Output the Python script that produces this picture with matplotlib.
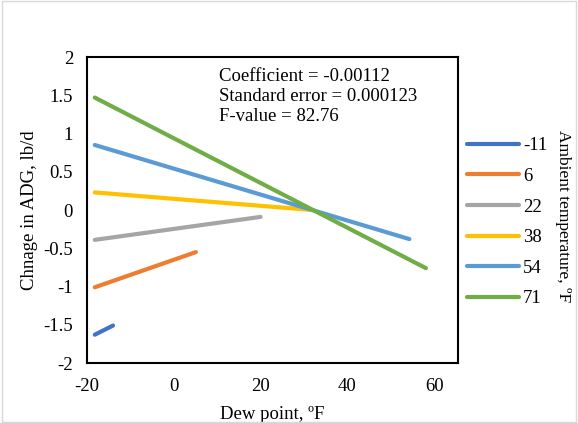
import matplotlib.pyplot as plt
from matplotlib.patches import Rectangle

plt.rcParams['font.family'] = ['Liberation Serif', 'DejaVu Serif']
plt.rcParams['font.size'] = 13.5
plt.rcParams['axes.unicode_minus'] = False

# data
temps = ['-11', '6', '22', '38', '54', '71']
x_start = [-18.2, -18.2, -18.2, -18.2, -18.2, -18.2]
x_end = [-14.0, 5.1, 20.0, 32.0, 54.3, 58.1]
y_start = [-1.63, -1.01, -0.39, 0.23, 0.85, 1.47]
y_end = [-1.51, -0.55, -0.09, 0.0, -0.38, -0.76]
colors = ['#4472C4', '#ED7D31', '#A5A5A5', '#FFC000', '#5B9BD5', '#70AD47']
x_ticks = [-20, 0, 20, 40, 60]
y_ticks = [-2, -1.5, -1, -0.5, 0, 0.5, 1, 1.5, 2]
stats_text = "Coefficient = -0.00112\nStandard error = 0.000123\nF-value = 82.76"

fig = plt.figure(figsize=(5.78, 4.23), dpi=100)
ax = fig.add_axes([0.1505, 0.1418, 0.6419, 0.7234])

for i in range(len(temps)):
    ax.plot([x_start[i], x_end[i]], [y_start[i], y_end[i]], color=colors[i],
            lw=3, solid_capstyle='round', label=temps[i])

ax.set_xlim(-20, 65.5)
ax.set_ylim(-2, 2)
ax.set_xticks(x_ticks)
ax.set_yticks(y_ticks)
ax.set_yticklabels([f"{v:g}" for v in y_ticks])
ax.tick_params(axis='x', length=0, pad=11)
ax.tick_params(axis='y', length=0, pad=10)
for s in ax.spines.values():
    s.set_linewidth(1.5)
    s.set_color('black')

ax.set_xlabel("Dew point, ºF", labelpad=8)
ax.set_ylabel("Chnage in ADG, lb/d", labelpad=4)

ax.text(0.356, 0.965, stats_text, transform=ax.transAxes, va='top', ha='left',
        linespacing=1.25)

leg = ax.legend(loc='center left', bbox_to_anchor=(1.024, 0.46), frameon=False,
                handlelength=2.8, handletextpad=0.2, labelspacing=0.72,
                borderaxespad=0, borderpad=0)

fig.text(0.974, 0.49, "Ambient temperature, ºF", rotation=-90,
         ha='center', va='center', fontsize=12.5)

# light frame around the chart area
fig.patches.append(Rectangle((0.003, 0.003), 0.994, 0.994, transform=fig.transFigure,
                             fill=False, edgecolor='#D9D9D9', lw=1))

fig.savefig('out.png', dpi=100)
